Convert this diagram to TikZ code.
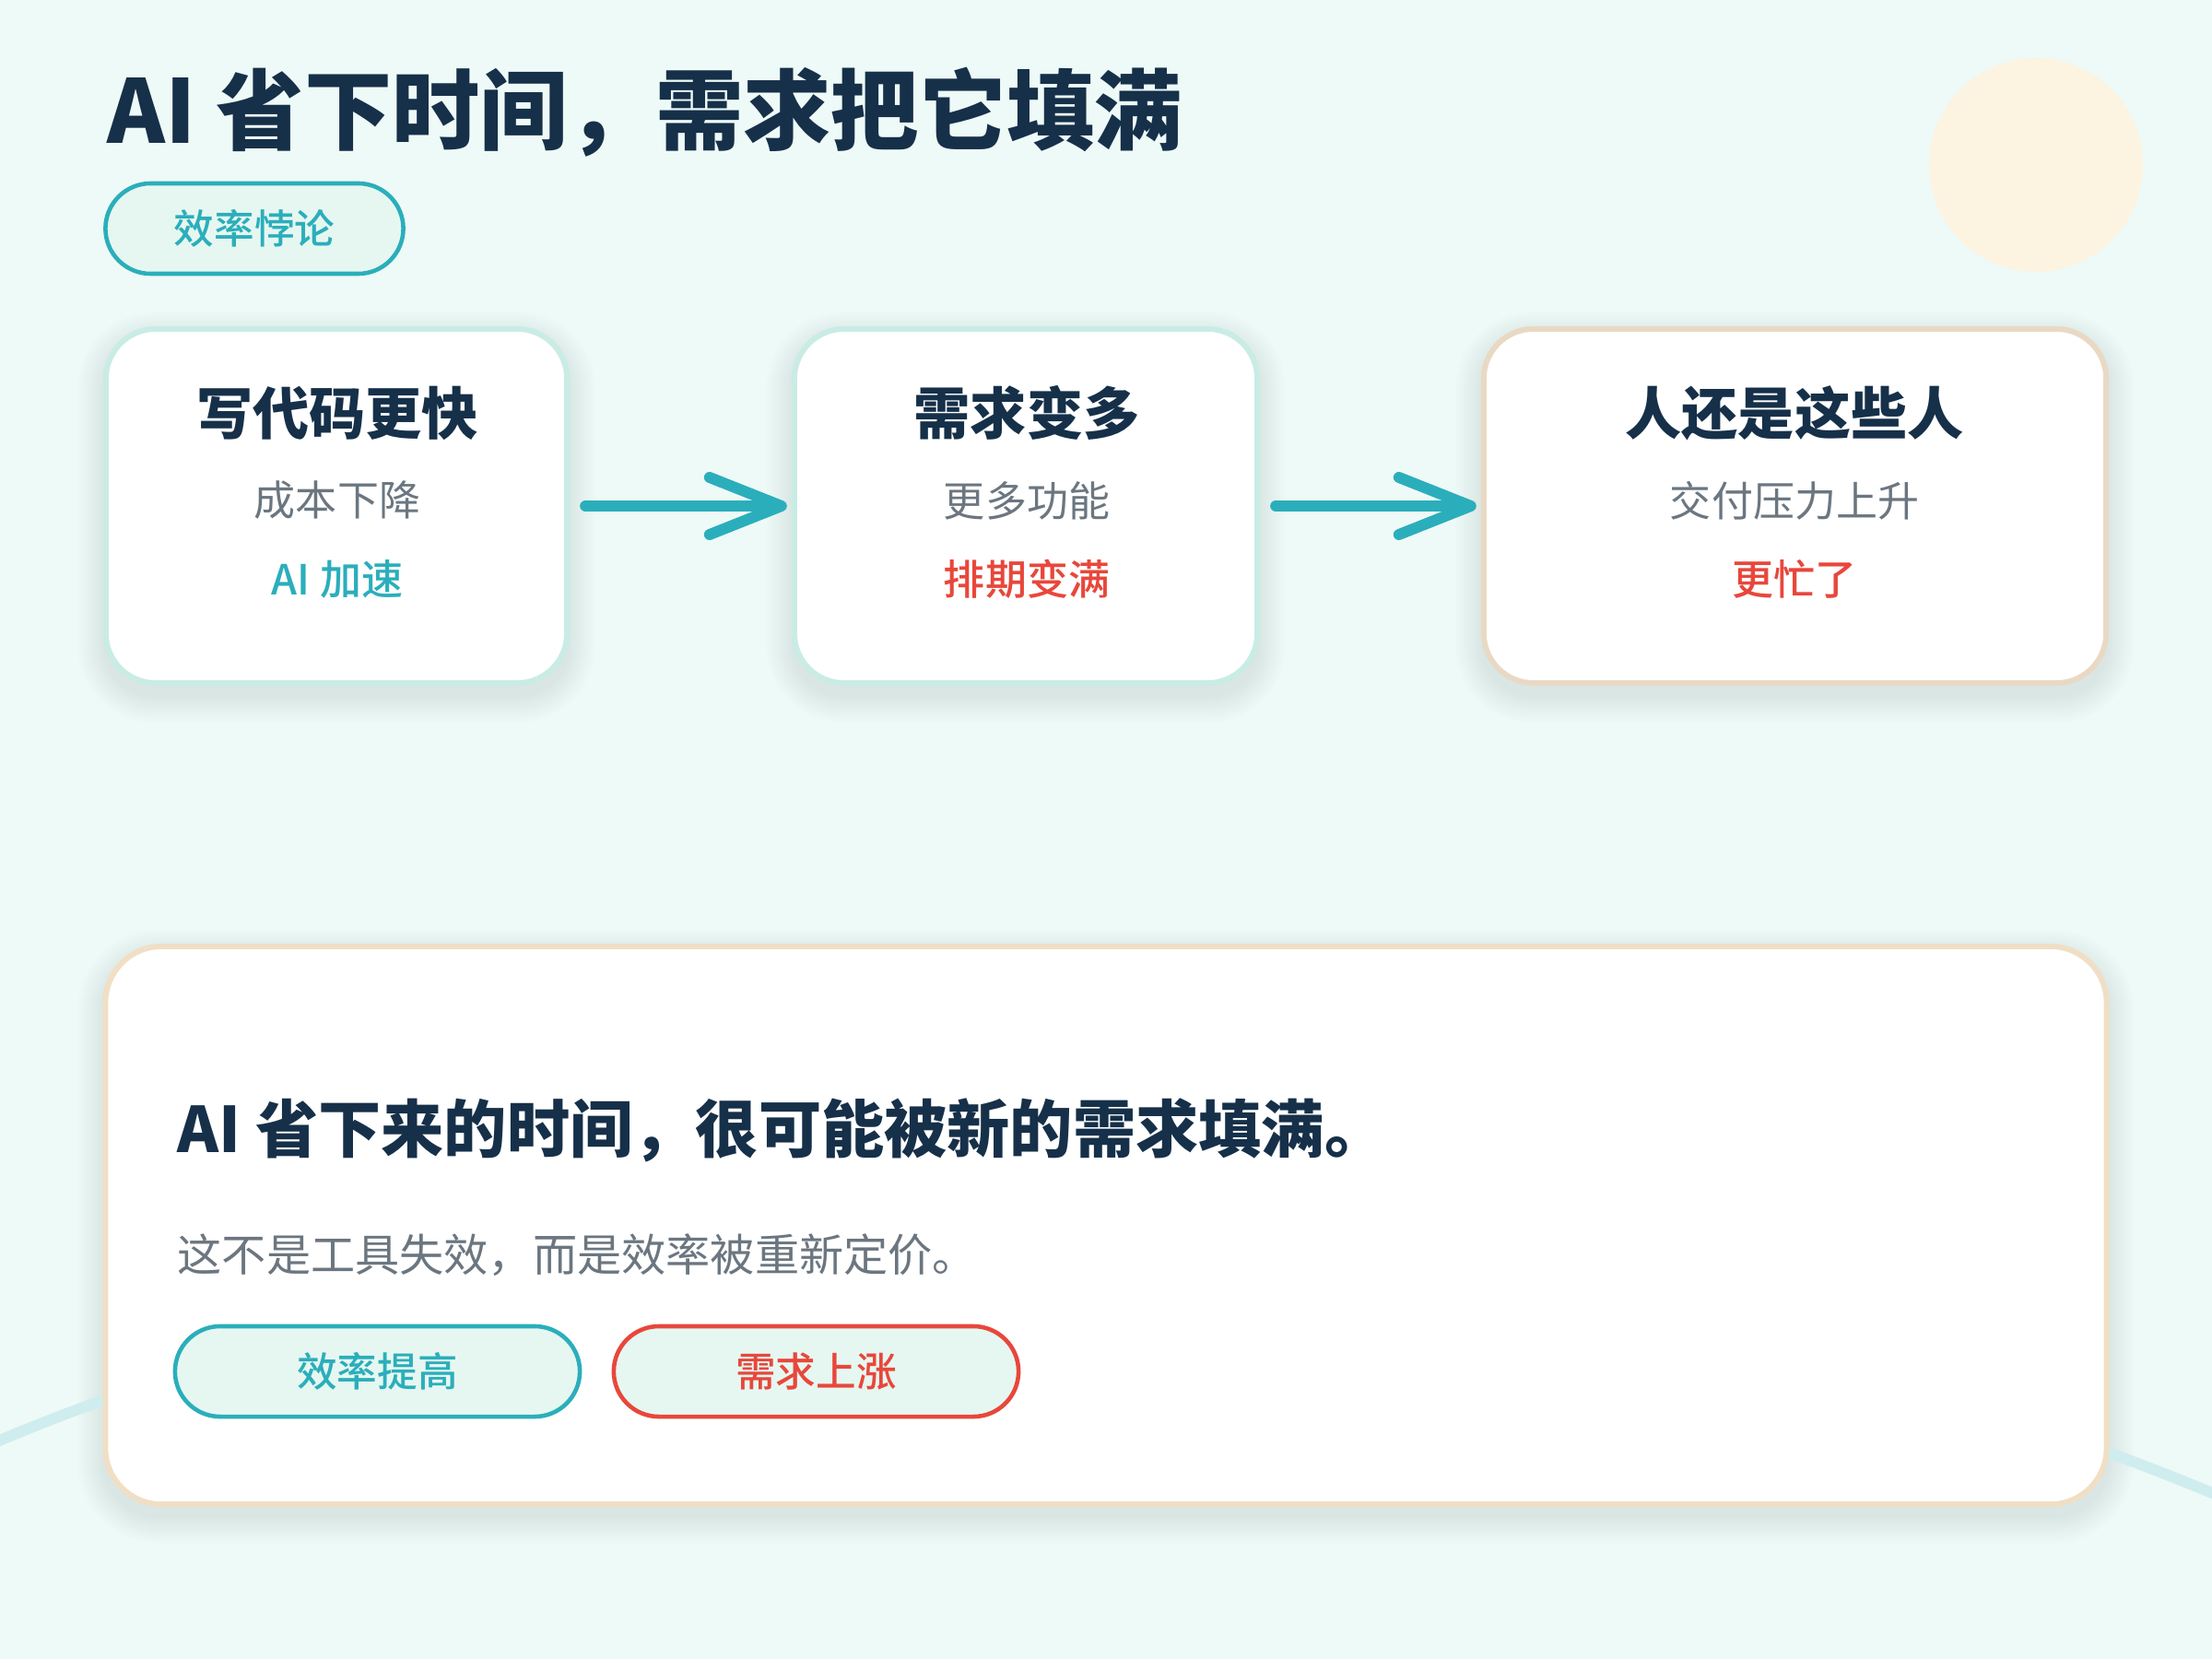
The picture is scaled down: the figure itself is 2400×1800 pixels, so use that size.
\documentclass[tikz,border=0pt]{standalone}
\usepackage{fontspec}
\setmainfont{Noto Sans CJK SC}
\newfontfamily\medfont{Noto Sans CJK SC Medium}
\usetikzlibrary{arrows.meta}
\definecolor{bgc}{HTML}{EEFAF7}
\definecolor{navy}{HTML}{163049}
\definecolor{graytxt}{HTML}{6B7680}
\definecolor{teal}{HTML}{2BAEBB}
\definecolor{redc}{HTML}{E8473B}
\definecolor{mint}{HTML}{E6F7F1}
\definecolor{tealline}{HTML}{C9ECE5}
\definecolor{beige}{HTML}{E9D9C4}
\definecolor{beige2}{HTML}{F0DFC5}
\definecolor{sun}{HTML}{FCF3E1}
\definecolor{wave}{HTML}{CFEDEE}
\definecolor{shadowc}{HTML}{6E9E99}
\pgfdeclarelayer{bglayer}
\pgfdeclarelayer{shadowlayer}
\pgfsetlayers{bglayer,shadowlayer,main}
\tikzset{
  card/.style={draw=tealline, line width=1.7pt, fill=white, rounded corners=0.54cm, inner sep=0pt},
  pill/.style={draw=teal, line width=1.3pt, fill=mint, rounded corners=0.49cm, inner sep=0pt},
  cardtitle/.style={font=\fontsize{17.4}{20}\selectfont\bfseries, text=navy, inner sep=0pt},
  cardsub/.style={font=\fontsize{12.8}{15}\selectfont, text=graytxt, inner sep=0pt},
  cardthird/.style={font=\fontsize{12.8}{15}\selectfont\medfont, inner sep=0pt},
  flowarrow/.style={draw=teal, line width=3.4pt, line cap=round,
     -{Straight Barb[length=0.78cm, width=0.62cm, round]}},
}
\newcommand{\softshadow}[2]{% node name, radius (px)
  \begin{pgfonlayer}{shadowlayer}
  \foreach \k in {0,...,9}{
    \pgfmathsetmacro{\rr}{(#2+\k*3)*0.01}
    \fill[shadowc, opacity=0.016, rounded corners=\rr cm]
      ([shift={(-\k*3,12-\k*3)}]#1.north west) rectangle ([shift={(\k*3,12+\k*3)}]#1.south east);
  }
  \end{pgfonlayer}
}
\begin{document}
\begin{tikzpicture}[x=0.01cm, y=-0.01cm]
\useasboundingbox (0,0) rectangle (2400,1800);
\begin{pgfonlayer}{bglayer}
  \fill[bgc] (0,0) rectangle (2400,1800);
  \fill[sun] (2209,179) circle (116);
\end{pgfonlayer}

% title
\node[anchor=west, inner sep=0pt, text=navy, font=\fontsize{27.1}{31}\selectfont\bfseries] (title) at (116,122) {AI 省下时间，需求把它填满};
\node[pill, minimum width=3.23cm, minimum height=0.98cm, text=teal, font=\fontsize{12.4}{15}\selectfont\medfont] (tag) at (276,248) {效率悖论};

% cards
\node[card, minimum width=5.0cm, minimum height=3.84cm] (c1) at (365,549) {};
\node[card, minimum width=5.02cm, minimum height=3.84cm] (c2) at (1113,549) {};
\node[card, draw=beige, minimum width=6.75cm, minimum height=3.84cm] (c3) at (1947.5,549) {};
\softshadow{c1}{54}
\softshadow{c2}{54}
\softshadow{c3}{54}

\node[cardtitle] (t1) at (366,448) {写代码更快};
\node[cardsub] (s1) at (366,543) {成本下降};
\node[cardthird, text=teal] (h1) at (366,628) {AI 加速};

\node[cardtitle] (t2) at (1114,448) {需求变多};
\node[cardsub] (s2) at (1114,543) {更多功能};
\node[cardthird, text=redc] (h2) at (1114,628) {排期变满};

\node[cardtitle] (t3) at (1947,448) {人还是这些人};
\node[cardsub] (s3) at (1947,543) {交付压力上升};
\node[cardthird, text=redc] (h3) at (1947,628) {更忙了};

\draw[flowarrow] ([xshift=0.17cm]c1.east) -- ([xshift=-0.05cm]c2.west);
\draw[flowarrow] ([xshift=0.17cm]c2.east) -- ([xshift=-0.05cm]c3.west);

% bottom card
\node[card, draw=beige2, rounded corners=0.61cm, minimum width=21.7cm, minimum height=6.05cm] (big) at (1200,1329.5) {};
\softshadow{big}{61}
\begin{pgfonlayer}{shadowlayer}
  \coordinate (wl) at (-10,1567);
  \coordinate (wr) at (2410,1624);
  \draw[wave, line width=3.4pt] (wl) .. controls (700,1262) and (1700,1326) .. (wr);
\end{pgfonlayer}

\node[anchor=west, inner sep=0pt, text=navy, font=\fontsize{19.4}{23}\selectfont\bfseries] (msg) at (192,1226) {AI 省下来的时间，很可能被新的需求填满。};
\node[anchor=west, inner sep=0pt, text=graytxt, font=\fontsize{13.7}{16}\selectfont] (sub) at (192,1362) {这不是工具失效，而是效率被重新定价。};

\node[pill, minimum width=4.39cm, minimum height=0.98cm, text=teal, font=\fontsize{12.4}{15}\selectfont\medfont] (p1) at (409.5,1488) {效率提高};
\node[pill, draw=redc, minimum width=4.39cm, minimum height=0.98cm, text=redc, font=\fontsize{12.4}{15}\selectfont\medfont] (p2) at (885.5,1488) {需求上涨};
\end{tikzpicture}
\end{document}
